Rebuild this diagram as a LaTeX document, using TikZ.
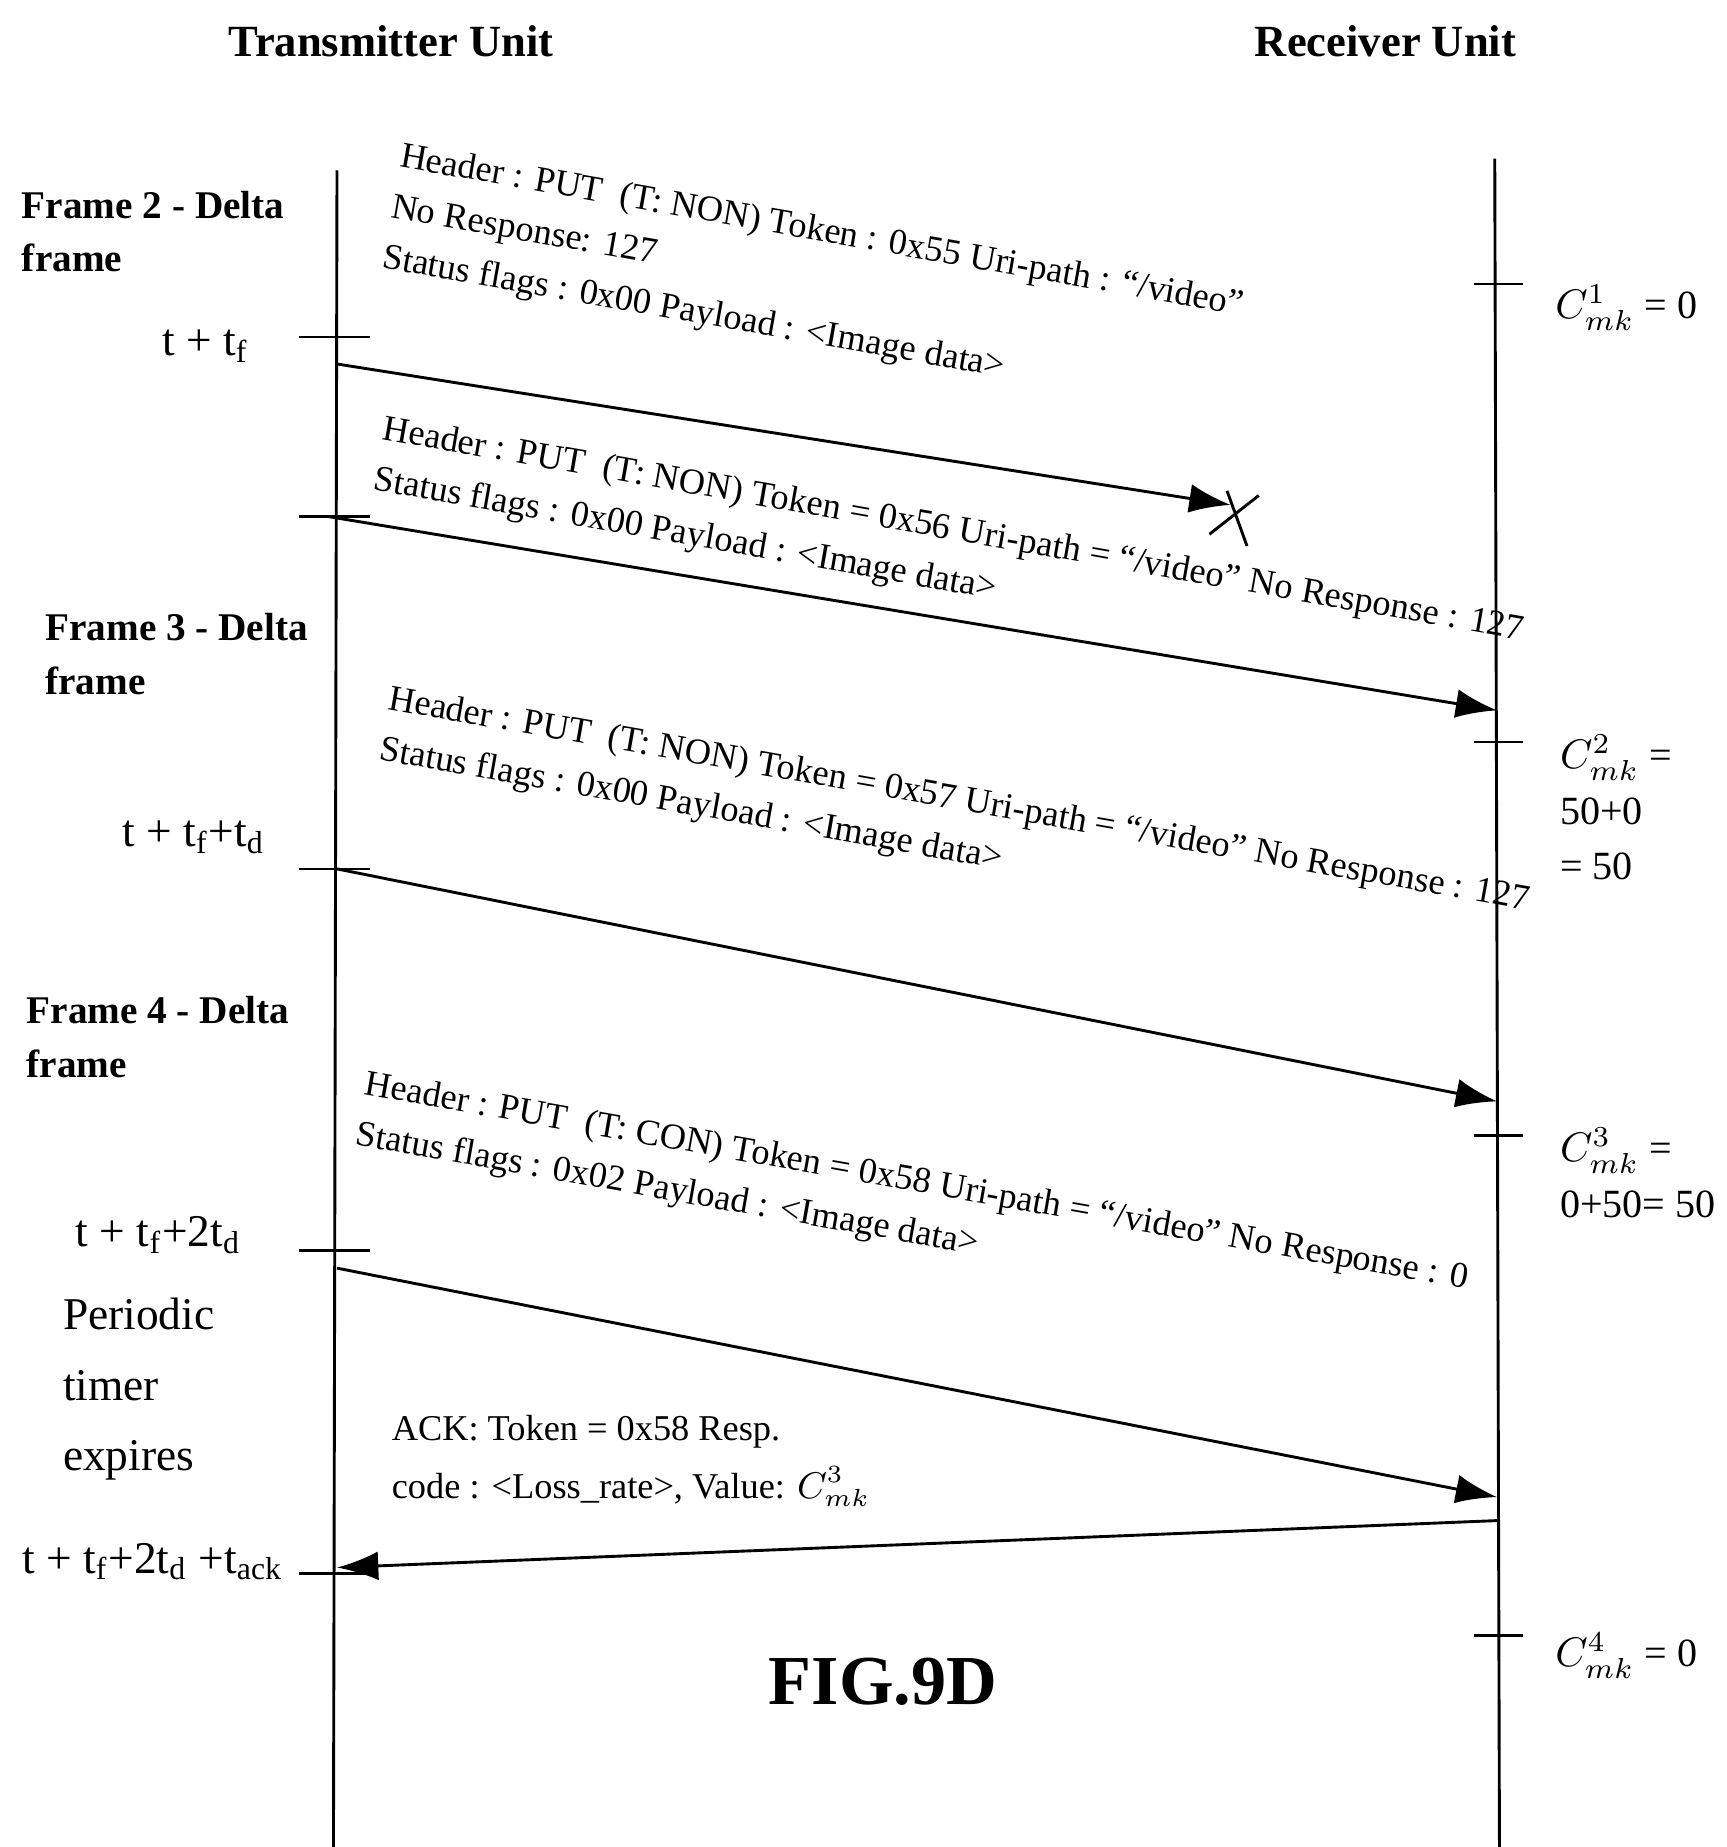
\documentclass[tikz,border=0pt]{standalone}
\usepackage{fontspec}
\setmainfont{Liberation Serif}
\usetikzlibrary{arrows.meta,positioning}
\tikzset{
  msg/.style={-{Latex[length=10pt,width=7pt]},line width=0.7pt},
  tick/.style={line width=0.6pt},
  lbl/.style={font=\fontsize{9.5}{13}\selectfont\bfseries,align=left,inner sep=0pt},
  tlbl/.style={font=\fontsize{11}{13}\selectfont,inner sep=0pt},
  mtext/.style={font=\fontsize{8.8}{12.4}\selectfont,align=left,inner sep=0pt,anchor=north west,rotate=-10},
  cval/.style={font=\fontsize{9.7}{13.5}\selectfont,align=left,inner sep=0pt}
}
\begin{document}
\begin{tikzpicture}[x=0.01cm,y=-0.01cm]
\useasboundingbox (0,0) rectangle (1470,1573);
% titles
\node[font=\fontsize{10.8}{13}\selectfont\bfseries] (tx) at (333,35) {Transmitter Unit};
\node[font=\fontsize{10.8}{13}\selectfont\bfseries] (rx) at (1180,35) {Receiver Unit};
% lifelines
\coordinate (txtop) at (287,145);
\coordinate (txbot) at (284,1573);
\coordinate (rxtop) at (1273,135);
\coordinate (rxbot) at (1277,1573);
\draw[line width=0.7pt] (txtop) -- (txbot);
\draw[line width=0.7pt] (rxtop) -- (rxbot);
% ticks
\foreach \y in {287,440,740,1065,1340}
  \draw[tick] (255,\y) -- (315,\y);
\foreach \y in {242,632,967,1393}
  \draw[tick] (1255,\y) -- (1297,\y);
% left labels
\node[lbl,anchor=north west] (f2) at (18,162) {Frame 2 - Delta\\frame};
\node[tlbl] (t1) at (175,295) {t + t$_\mathrm{f}$};
\node[lbl,anchor=north west] (f3) at (38,522) {Frame 3 - Delta\\frame};
\node[tlbl] (t2) at (165,713) {t + t$_\mathrm{f}$+t$_\mathrm{d}$};
\node[lbl,anchor=north west] (f4) at (22,848) {Frame 4 - Delta\\frame};
\node[tlbl] (t3) at (135,1052) {t + t$_\mathrm{f}$+2t$_\mathrm{d}$};
\node[font=\fontsize{11}{17}\selectfont,align=left,anchor=north west,inner sep=0pt] (timer) at (53,1105) {Periodic\\timer\\expires};
\node[tlbl] (t4) at (130,1330) {t + t$_\mathrm{f}$+2t$_\mathrm{d}$ +t$_\mathrm{ack}$};
% right values
\node[cval] (c1) at (1385,262) {$C^1_{mk}$ = 0};
\node[cval,anchor=north west] (c2) at (1328,625) {$C^2_{mk}$ =\\50+0\\= 50};
\node[cval,anchor=north west] (c3) at (1328,960) {$C^3_{mk}$ =\\0+50= 50};
\node[cval] (c4) at (1385,1410) {$C^4_{mk}$ = 0};
% message texts
\node[mtext] (m1) at (343,120) {Header : PUT\ \ (T: NON) Token : 0x55 Uri-path : “/video”\\No Response: 127\\Status flags : 0x00 Payload : <Image data>};
\node[mtext] (m2) at (328,352) {Header : PUT\ \ (T: NON) Token = 0x56 Uri-path = “/video” No Response : 127\\Status flags : 0x00 Payload : <Image data>};
\node[mtext] (m3) at (333,582) {Header : PUT\ \ (T: NON) Token = 0x57 Uri-path = “/video” No Response : 127\\Status flags : 0x00 Payload : <Image data>};
\node[mtext] (m4) at (313,910) {Header : PUT\ \ (T: CON) Token = 0x58 Uri-path = “/video” No Response : 0\\Status flags : 0x02 Payload : <Image data>};
\node[font=\fontsize{8.8}{14}\selectfont,align=left,anchor=north west,inner sep=0pt] (ack) at (333,1205) {ACK: Token = 0x58 Resp.\\code : <Loss\_rate>, Value: $C^3_{mk}$};
% arrows
\coordinate (a1s) at (287,310);
\coordinate (a1e) at (1048,430);
\draw[msg] (a1s) -- (a1e);
\draw[line width=0.7pt] (1030,455) -- (1072,422) (1045,418) -- (1062,465);
\coordinate (a2s) at (280,440);
\coordinate (a2e) at (1275,605);
\draw[msg] (a2s) -- (a2e);
\coordinate (a3s) at (287,740);
\coordinate (a3e) at (1275,938);
\draw[msg] (a3s) -- (a3e);
\coordinate (a4s) at (287,1080);
\coordinate (a4e) at (1275,1275);
\draw[msg] (a4s) -- (a4e);
\coordinate (a5s) at (1275,1295);
\coordinate (a5e) at (287,1335);
\draw[msg] (a5s) -- (a5e);
\node[font=\fontsize{17}{20}\selectfont\bfseries] (fig) at (752,1432) {FIG.9D};
\end{tikzpicture}
\end{document}
